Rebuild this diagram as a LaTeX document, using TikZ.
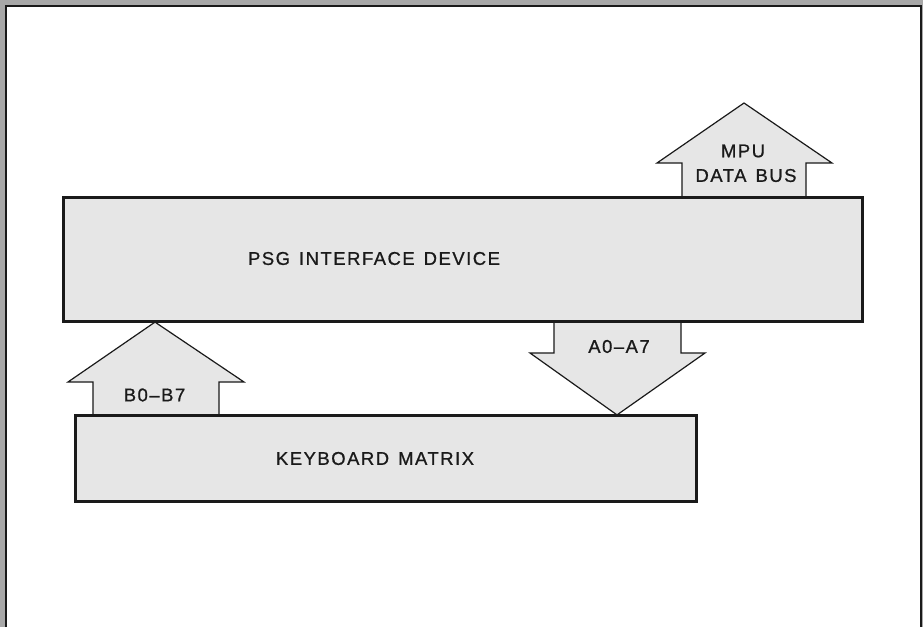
\documentclass[tikz,border=0pt]{standalone}
\usepackage{fontspec}
\setmainfont{Liberation Sans}[LetterSpace=8,FakeBold=0.8]
\definecolor{outgray}{HTML}{A8A8A8}
\definecolor{boxgray}{HTML}{E6E6E6}
\definecolor{inkc}{HTML}{1A1A1A}
\newcommand{\wsp}{\hspace{9pt}}
\begin{document}
\begin{tikzpicture}[x=1pt,y=-1pt,
  blockbox/.style={draw=inkc,fill=boxgray,line width=2.2pt,inner sep=0pt},
  busfill/.style={fill=boxgray},
  busline/.style={draw=inkc,line width=1.2pt,line join=miter},
  lbl/.style={font=\fontsize{18.5}{20}\selectfont,text=inkc,inner sep=0pt}]
% background and frame
\fill[outgray] (0,0) rectangle (923,627);
\fill[white] (6,6) rectangle (921,627);
\draw[inkc,line width=2.4pt] (6,627) -- (6,6) -- (921,6) -- (921,627);
% blocks
\node[blockbox,minimum width=798pt,minimum height=123pt] (psg) at (463,259.5) {};
\node[blockbox,minimum width=620pt,minimum height=85pt] (kbd) at (386,458.5) {};
\node[lbl] (psgt) at (374,258.5) {PSG\wsp INTERFACE\wsp DEVICE};
\node[lbl] (kbdt) at (375,458.5) {KEYBOARD\wsp MATRIX};
% MPU data bus arrow (out of PSG top)
\coordinate (mpuL) at (682,0 |- psg.north);
\coordinate (mpuR) at (806,0 |- psg.north);
\fill[busfill] (mpuL) -- (682,163) -- (657,163) -- (744,103) -- (832,163) -- (806,163) -- (mpuR) -- cycle;
\draw[busline] (mpuL) -- (682,163) -- (657,163) -- (744,103) -- (832,163) -- (806,163) -- (mpuR);
\node[lbl] (mpu1) at (743,151) {MPU};
\node[lbl] (mpu2) at (746,175.5) {DATA\wsp BUS};
% B0-B7 arrow (keyboard -> PSG)
\coordinate (bL) at (93,0 |- kbd.north);
\coordinate (bR) at (219,0 |- kbd.north);
\coordinate (bT) at (155,0 |- psg.south);
\fill[busfill] (bL) -- (93,382) -- (68,382) -- (bT) -- (244,382) -- (219,382) -- (bR) -- cycle;
\draw[busline] (bL) -- (93,382) -- (68,382) -- (bT) -- (244,382) -- (219,382) -- (bR);
\node[lbl] (blab) at (154.5,395) {B0–B7};
% A0-A7 arrow (PSG -> keyboard)
\coordinate (aL) at (554,0 |- psg.south);
\coordinate (aR) at (681,0 |- psg.south);
\coordinate (aT) at (617,0 |- kbd.north);
\fill[busfill] (aL) -- (554,353) -- (530,353) -- (aT) -- (705,353) -- (681,353) -- (aR) -- cycle;
\draw[busline] (aL) -- (554,353) -- (530,353) -- (aT) -- (705,353) -- (681,353) -- (aR);
\node[lbl] (alab) at (619,346.5) {A0–A7};
% redraw block edges on top
\draw[inkc,line width=2.2pt] (psg.north west) rectangle (psg.south east);
\draw[inkc,line width=2.2pt] (kbd.north west) rectangle (kbd.south east);
\end{tikzpicture}
\end{document}
